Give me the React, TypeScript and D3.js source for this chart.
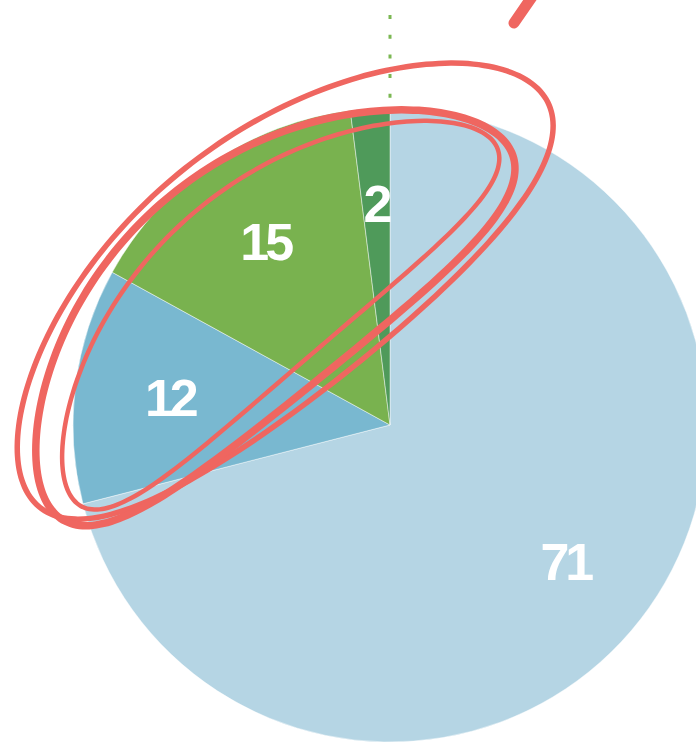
import React, { useEffect, useRef } from 'react';
import * as d3 from 'd3';

const categories = ['A', 'B', 'C', 'D'];
const values = [71, 12, 15, 2];
const colors = ['#b5d5e4', '#79b8d0', '#79b24f', '#4f9a5a'];

// hand-drawn annotation loops, bent ellipses: [cx, cy, rx, ry, rotation, bend, strokeWidth]
const loops = [
  [266, 270, 326, 130, -38.5, 34, 5.5],
  [246, 286, 292, 118, -39, 52, 7.5],
  [252, 284, 276, 92, -40.6, 48, 4.5],
];

export default function App() {
  const ref = useRef<SVGSVGElement>(null);

  useEffect(() => {
    const width = 696;
    const height = 745;
    const cx = 390;
    const cy = 425;
    const radius = 317;
    const red = '#ef6660';

    const svg = d3.select(ref.current);
    svg.selectAll('*').remove();
    svg.attr('width', width).attr('height', height);

    // dotted guide line behind the pie
    svg
      .append('line')
      .attr('x1', cx)
      .attr('x2', cx)
      .attr('y1', 15)
      .attr('y2', 744)
      .attr('stroke', '#7bb752')
      .attr('stroke-width', 3)
      .attr('stroke-dasharray', '4,15.7');

    const pie = d3
      .pie<number>()
      .sort(null)
      .value(d => d);
    const arcs = pie(values);

    const arc = d3.arc<d3.PieArcDatum<number>>().innerRadius(0).outerRadius(radius);
    const labelArc = d3
      .arc<d3.PieArcDatum<number>>()
      .innerRadius(radius * 0.7)
      .outerRadius(radius * 0.7);

    const g = svg.append('g').attr('transform', `translate(${cx},${cy})`);

    g.selectAll('path.slice')
      .data(arcs)
      .enter()
      .append('path')
      .attr('class', 'slice')
      .attr('d', arc)
      .attr('fill', (d, i) => colors[i])
      .attr('stroke', 'rgba(255,255,255,0.45)')
      .attr('stroke-width', 1);

    g.selectAll('text.label')
      .data(arcs)
      .enter()
      .append('text')
      .attr('class', 'label')
      .attr('transform', d => {
        const [x, y] = labelArc.centroid(d);
        return `translate(${x},${y})`;
      })
      .attr('text-anchor', 'middle')
      .attr('dy', '0.36em')
      .attr('fill', '#fff')
      .attr('font-family', 'Liberation Sans, Arial, sans-serif')
      .attr('font-weight', 'bold')
      .attr('font-size', 52)
      .attr('letter-spacing', -4)
      .text(d => String(d.data));

    // red scribbled loops
    const line = d3.line().curve(d3.curveCardinalClosed);
    const loopPoints = (l: number[]) => {
      const [lx, ly, rx, ry, rot, bend] = l;
      const a = (rot * Math.PI) / 180;
      const u = [Math.cos(a), Math.sin(a)];
      const v = [-Math.sin(a), Math.cos(a)];
      return d3.range(0, 2 * Math.PI, Math.PI / 60).map(t => {
        const along = rx * Math.cos(t);
        const perp = ry * Math.sin(t) + bend * Math.cos(t) * Math.cos(t);
        return [lx + along * u[0] + perp * v[0], ly + along * u[1] + perp * v[1]] as [number, number];
      });
    };

    svg
      .selectAll('path.loop')
      .data(loops)
      .enter()
      .append('path')
      .attr('class', 'loop')
      .attr('d', d => line(loopPoints(d)))
      .attr('fill', 'none')
      .attr('stroke', red)
      .attr('stroke-width', d => d[6]);

    // stroke at top right
    svg
      .append('line')
      .attr('x1', 514)
      .attr('y1', 23)
      .attr('x2', 534)
      .attr('y2', -6)
      .attr('stroke', red)
      .attr('stroke-width', 11)
      .attr('stroke-linecap', 'round');
  }, []);

  return (
    <svg ref={ref} style={{ position: 'absolute', left: 0, top: 0 }} data-cats={categories.join(',')} />
  );
}
